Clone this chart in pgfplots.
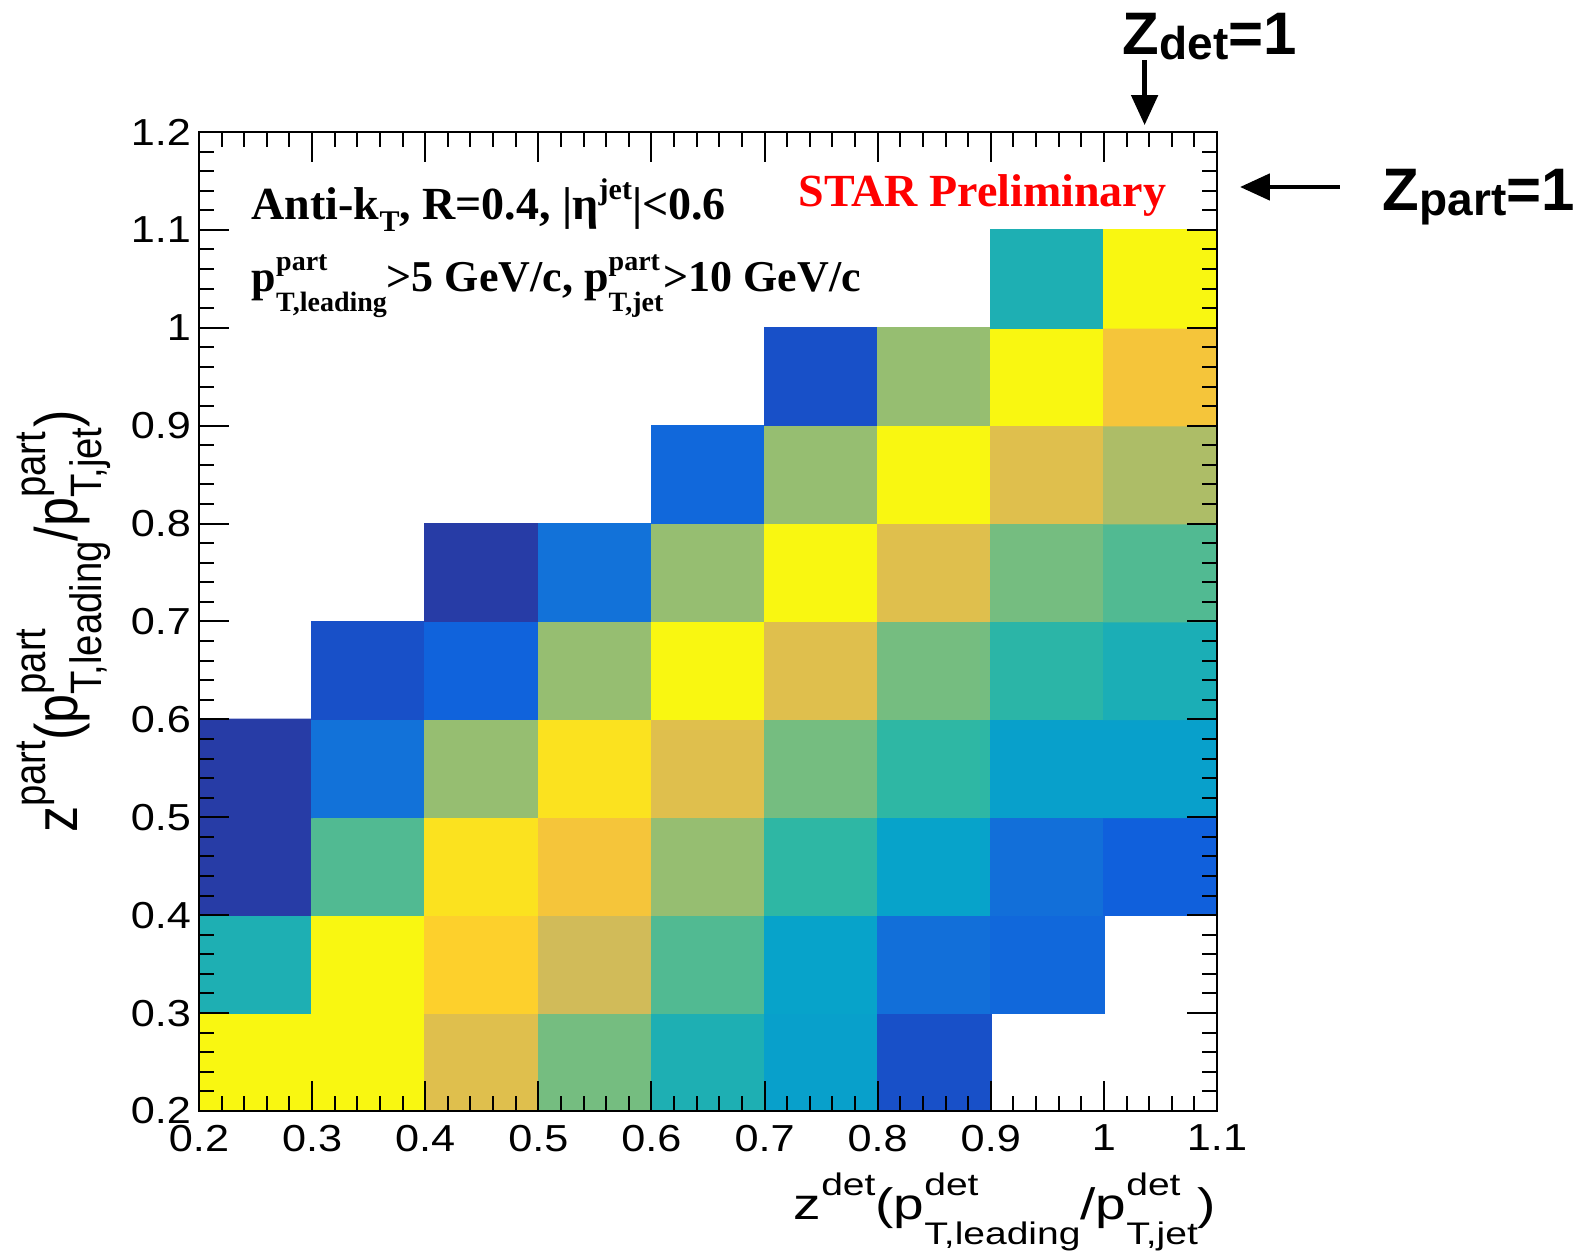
\documentclass[border=0pt]{standalone}
\usepackage{graphicx}
\usepackage{pgfplots}
\pgfplotsset{compat=1.18}
\usepackage{pgfplotstable}
\usepackage{fontspec}
\setmainfont{Liberation Sans}
\newfontfamily\timesfont{Liberation Serif}
\usetikzlibrary{calc,arrows.meta}

% ROOT-style stacked scripts: #1 size, #2 raise, #3 drop, #4 sup, #5 sub
\newcommand{\supsub}[5]{\rlap{\raisebox{#2}{\fontsize{#1}{#1}\selectfont #4}}\raisebox{-#3}{\fontsize{#1}{#1}\selectfont #5}}
\newcommand{\sups}[3]{\raisebox{#2}{\fontsize{#1}{#1}\selectfont #3}}

% bin centres (zdet, zpart) and colour level
\pgfplotstableread{
x y c
0.25 0.25 0.99
0.35 0.25 0.99
0.45 0.25 0.79
0.55 0.25 0.60
0.65 0.25 0.45
0.75 0.25 0.36
0.85 0.25 0.095
0.95 0.25 nan
1.05 0.25 nan
0.25 0.35 0.45
0.35 0.35 0.99
0.45 0.35 0.895
0.55 0.35 0.75
0.65 0.35 0.55
0.75 0.35 0.37
0.85 0.35 0.19
0.95 0.35 0.165
1.05 0.35 nan
0.25 0.45 0.045
0.35 0.45 0.55
0.45 0.45 0.94
0.55 0.45 0.85
0.65 0.45 0.65
0.75 0.45 0.50
0.85 0.45 0.37
0.95 0.45 0.19
1.05 0.45 0.14
0.25 0.55 0.045
0.35 0.55 0.20
0.45 0.55 0.65
0.55 0.55 0.94
0.65 0.55 0.79
0.75 0.55 0.60
0.85 0.55 0.50
0.95 0.55 0.36
1.05 0.55 0.36
0.25 0.65 nan
0.35 0.65 0.095
0.45 0.65 0.15
0.55 0.65 0.65
0.65 0.65 0.99
0.75 0.65 0.79
0.85 0.65 0.60
0.95 0.65 0.49
1.05 0.65 0.44
0.25 0.75 nan
0.35 0.75 nan
0.45 0.75 0.045
0.55 0.75 0.20
0.65 0.75 0.65
0.75 0.75 0.99
0.85 0.75 0.79
0.95 0.75 0.60
1.05 0.75 0.55
0.25 0.85 nan
0.35 0.85 nan
0.45 0.85 nan
0.55 0.85 nan
0.65 0.85 0.165
0.75 0.85 0.65
0.85 0.85 0.99
0.95 0.85 0.79
1.05 0.85 0.69
0.25 0.95 nan
0.35 0.95 nan
0.45 0.95 nan
0.55 0.95 nan
0.65 0.95 nan
0.75 0.95 0.095
0.85 0.95 0.65
0.95 0.95 0.99
1.05 0.95 0.85
0.25 1.05 nan
0.35 1.05 nan
0.45 1.05 nan
0.55 1.05 nan
0.65 1.05 nan
0.75 1.05 nan
0.85 1.05 nan
0.95 1.05 0.45
1.05 1.05 0.99
}\cells

\begin{document}
\begin{tikzpicture}
\begin{axis}[
  name=ax,
  scale only axis,
  width=254.5pt, height=244.75pt,
  xmin=0.2, xmax=1.1, ymin=0.2, ymax=1.2,
  enlargelimits=false,
  xtick={0.2,0.3,0.4,0.5,0.6,0.7,0.8,0.9,1,1.1},
  ytick={0.2,0.3,0.4,0.5,0.6,0.7,0.8,0.9,1,1.1,1.2},
  minor tick num=4,
  tick align=inside,
  major tick length=7.5pt, minor tick length=3.75pt,
  every tick/.style={black, line width=0.5pt},
  axis line style={line width=0.6pt},
  axis on top,
  clip=false,
  colormap={bird}{rgb255=(53,42,135) rgb255=(15,92,221) rgb255=(20,129,214)
    rgb255=(6,164,202) rgb255=(46,183,164) rgb255=(135,191,119)
    rgb255=(209,187,89) rgb255=(254,200,50) rgb255=(249,251,14)},
  point meta min=0, point meta max=1,
  unbounded coords=jump,
  /pgf/number format/assume math mode=true,
  tick label style={font=\fontsize{9.4}{11}\selectfont},
  xticklabel={\scalebox{1.15}[1]{\pgfmathprintnumber{\tick}}},
  yticklabel={\scalebox{1.15}[1]{\pgfmathprintnumber{\tick}}},
  yticklabel style={xshift=1.5pt},
  xlabel={\scalebox{1.25}[1]{z\sups{7.8}{6.2pt}{det}(p\supsub{7.8}{6.2pt}{6.2pt}{det}{T,leading}/p\supsub{7.8}{6.2pt}{6.2pt}{det}{T,jet})}},
  xlabel style={at={(axis description cs:1,-0.1113)}, anchor=base east, inner sep=0pt,
    font=\fontsize{11}{13}\selectfont},
  ylabel={\scalebox{0.87}[1]{z\sups{11}{8pt}{part}(p\supsub{11}{8pt}{6pt}{part}{T,leading}/p\supsub{11}{8pt}{6pt}{part}{T,jet})}},
  ylabel style={at={(axis description cs:-0.1189,0.5)}, anchor=base, inner sep=0pt,
    font=\fontsize{15}{17}\selectfont},
]
  \addplot[matrix plot*, mesh/cols=9, point meta=explicit] table[x=x, y=y, meta=c] {\cells};

  \node[anchor=base west, inner sep=0pt, font=\timesfont\bfseries\fontsize{11.5}{13}\selectfont]
    at (axis description cs:0.051,0.911)
    {Anti-k\raisebox{-3pt}{\fontsize{7.5}{8}\selectfont T}, R=0.4, |η\sups{7.5}{5pt}{jet}|<0.6};
  \node[anchor=base west, inner sep=0pt, font=\timesfont\bfseries\fontsize{11}{13}\selectfont]
    at (axis description cs:0.051,0.837)
    {p\supsub{7}{5.2pt}{5pt}{part}{T,leading}>5 GeV/c, p\supsub{7}{5.2pt}{5pt}{part}{T,jet}>10 GeV/c};
  \node[anchor=base east, inner sep=0pt, text=red, font=\timesfont\bfseries\fontsize{11.5}{13}\selectfont]
    at (axis description cs:0.951,0.924) {STAR Preliminary};

  \draw[line width=1.2pt, -{Triangle[length=7.5pt,width=6.5pt]}]
    (axis cs:1.036,1.2735) -- (axis cs:1.036,1.207);
  \node[anchor=base west, inner sep=0pt, font=\bfseries\fontsize{15}{18}\selectfont]
    at (axis cs:1.016,1.279) {Z\raisebox{-1.3pt}{\fontsize{11.5}{12}\selectfont det}=1};
  \draw[line width=1.2pt, -{Triangle[length=7.5pt,width=6.5pt]}]
    (axis cs:1.2087,1.1438) -- (axis cs:1.1203,1.1438);
  \node[anchor=base west, inner sep=0pt, font=\bfseries\fontsize{15}{18}\selectfont]
    at (axis cs:1.2459,1.1203) {Z\raisebox{-1.3pt}{\fontsize{11.5}{12}\selectfont part}=1};
\end{axis}
\pgfresetboundingbox
\path ($(ax.south west)+(-49.75pt,-37pt)$) rectangle ($(ax.north east)+(89.5pt,33pt)$);
\end{tikzpicture}
\end{document}
